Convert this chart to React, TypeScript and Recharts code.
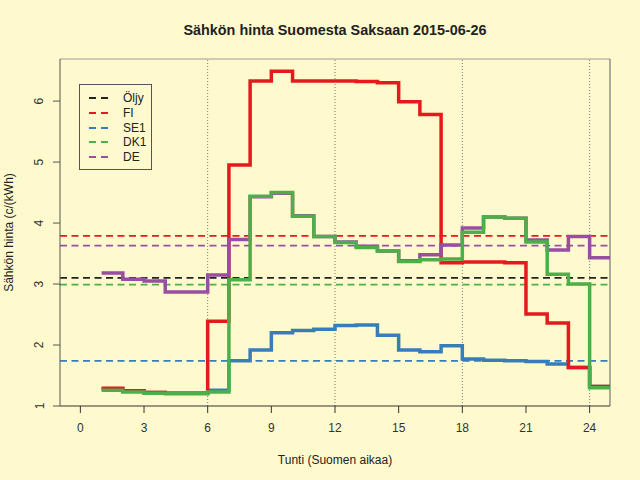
import { LineChart, Line, XAxis, YAxis, ReferenceLine, Legend, Label } from 'recharts';

const hours = [1, 2, 3, 4, 5, 6, 7, 8, 9, 10, 11, 12, 13, 14, 15, 16, 17, 18, 19, 20, 21, 22, 23, 24];
const stepEnd = 25;

const fi = [1.29, 1.25, 1.22, 1.21, 1.21, 2.39, 4.95, 6.33, 6.49, 6.33, 6.33, 6.33, 6.32, 6.3, 5.99, 5.78, 3.35, 3.36, 3.36, 3.35, 2.51, 2.36, 1.63, 1.32];
const se1 = [1.28, 1.25, 1.22, 1.21, 1.21, 1.26, 1.74, 1.92, 2.2, 2.24, 2.26, 2.32, 2.33, 2.16, 1.92, 1.89, 1.99, 1.77, 1.75, 1.74, 1.73, 1.69, 1.63, 1.32];
const dk1 = [1.26, 1.23, 1.21, 1.2, 1.2, 1.23, 3.07, 4.44, 4.5, 4.11, 3.78, 3.68, 3.6, 3.54, 3.37, 3.4, 3.41, 3.85, 4.1, 4.08, 3.69, 3.16, 3.0, 1.3];
const de = [3.18, 3.08, 3.05, 2.87, 2.87, 3.15, 3.73, 4.43, 4.49, 4.12, 3.78, 3.69, 3.62, 3.54, 3.38, 3.48, 3.64, 3.92, 4.1, 4.08, 3.72, 3.56, 3.78, 3.43];

// keskiarvot (vaakaviivat)
const refNames = ['Öljy', 'FI', 'SE1', 'DK1', 'DE'];
const refValues = [3.1, 3.79, 1.74, 2.99, 3.63];
const refColors = ['#222222', '#E41A1C', '#377EB8', '#4DAF4A', '#984EA3'];

const xTicks = [0, 3, 6, 9, 12, 15, 18, 21, 24];
const yTicks = [1, 2, 3, 4, 5, 6];
const dayLines = [6, 12, 18, 24];

const xDomain = [-0.96, 24.96];
const yDomain = [1, 6.69];

const font = '"Liberation Sans", Arial, Helvetica, sans-serif';
const bg = '#FFFACD';

const rows = [...hours, stepEnd].map((h, i) => {
  const k = Math.min(i, hours.length - 1);
  return { hour: h, FI: fi[k], SE1: se1[k], DK1: dk1[k], DE: de[k] };
});

// piirtojärjestys
const series = [
  { key: 'SE1', color: refColors[2] },
  { key: 'FI', color: refColors[1] },
  { key: 'DE', color: refColors[4] },
  { key: 'DK1', color: refColors[3] },
];

const XTick = (props: any) => (
  <text x={props.x} y={props.y + 17} textAnchor="middle" fontSize={12} fontFamily={font} fill="#333">
    {props.payload.value}
  </text>
);

const YTick = (props: any) => {
  const x = props.x - 7.5;
  return (
    <text x={x} y={props.y} transform={`rotate(-90, ${x}, ${props.y})`} textAnchor="middle" fontSize={12} fontFamily={font} fill="#333">
      {props.payload.value}
    </text>
  );
};

const LegendBox = () => (
  <div
    style={{
      width: 73,
      height: 86,
      border: '1px solid #555',
      boxSizing: 'border-box',
      position: 'relative',
      fontFamily: font,
      fontSize: 12,
      color: '#222',
    }}
  >
    {refNames.map((name, i) => (
      <div key={name} style={{ position: 'absolute', left: 0, top: 6.3 + i * 14.6, height: 14, display: 'flex', alignItems: 'center' }}>
        <svg width={43} height={14} style={{ display: 'block' }}>
          <line x1={9} x2={29} y1={7} y2={7} stroke={refColors[i]} strokeWidth={2} strokeDasharray="7 5" />
        </svg>
        <span style={{ lineHeight: '14px' }}>{name}</span>
      </div>
    ))}
  </div>
);

export default function App() {
  return (
    <div style={{ position: 'absolute', left: 0, top: 0, width: 640, height: 480, background: bg }}>
      <div
        style={{
          position: 'absolute',
          left: 60,
          top: 22.8,
          width: 550,
          textAlign: 'center',
          fontFamily: font,
          fontWeight: 'bold',
          fontSize: 14.4,
          lineHeight: 1,
          color: '#222',
        }}
      >
        Sähkön hinta Suomesta Saksaan 2015-06-26
      </div>
      <LineChart width={640} height={480} data={rows} margin={{ top: 59, right: 30, bottom: 44, left: 20 }}>
        <XAxis
          dataKey="hour"
          type="number"
          domain={xDomain}
          ticks={xTicks}
          allowDataOverflow
          height={30}
          tickSize={7}
          axisLine={{ stroke: '#333' }}
          tickLine={{ stroke: '#333' }}
          tick={<XTick />}
          interval={0}
        >
          <Label
            content={() => (
              <text x={335} y={464} textAnchor="middle" fontSize={12} fontFamily={font} fill="#222">
                Tunti (Suomen aikaa)
              </text>
            )}
          />
        </XAxis>
        <YAxis
          type="number"
          domain={yDomain}
          ticks={yTicks}
          allowDataOverflow
          width={40}
          tickSize={7}
          axisLine={{ stroke: '#555' }}
          tickLine={{ stroke: '#555' }}
          tick={<YTick />}
          interval={0}
        >
          <Label
            content={() => (
              <text x={13} y={232.5} transform="rotate(-90, 13, 232.5)" textAnchor="middle" fontSize={12} fontFamily={font} fill="#222">
                Sähkön hinta (c/(kWh)
              </text>
            )}
          />
        </YAxis>
        <ReferenceLine y={yDomain[1]} stroke="#999" strokeWidth={1.2} />
        <ReferenceLine x={xDomain[1]} stroke="#777" strokeWidth={1.2} />
        {dayLines.map((d) => (
          <ReferenceLine key={d} x={d} stroke="#777" strokeWidth={1} strokeDasharray="1 2" />
        ))}
        {refValues.map((v, i) => (
          <ReferenceLine key={refNames[i]} y={v} stroke={refColors[i]} strokeWidth={1.8} strokeDasharray="7 4.5" />
        ))}
        {series.map((s) => (
          <Line
            key={s.key}
            dataKey={s.key}
            type="stepAfter"
            stroke={s.color}
            strokeWidth={3.5}
            dot={false}
            activeDot={false}
            isAnimationActive={false}
          />
        ))}
        <Legend
          layout="vertical"
          align="center"
          verticalAlign="middle"
          content={<LegendBox />}
          wrapperStyle={{ left: 79, top: 84, width: 73, height: 86 }}
        />
      </LineChart>
    </div>
  );
}
